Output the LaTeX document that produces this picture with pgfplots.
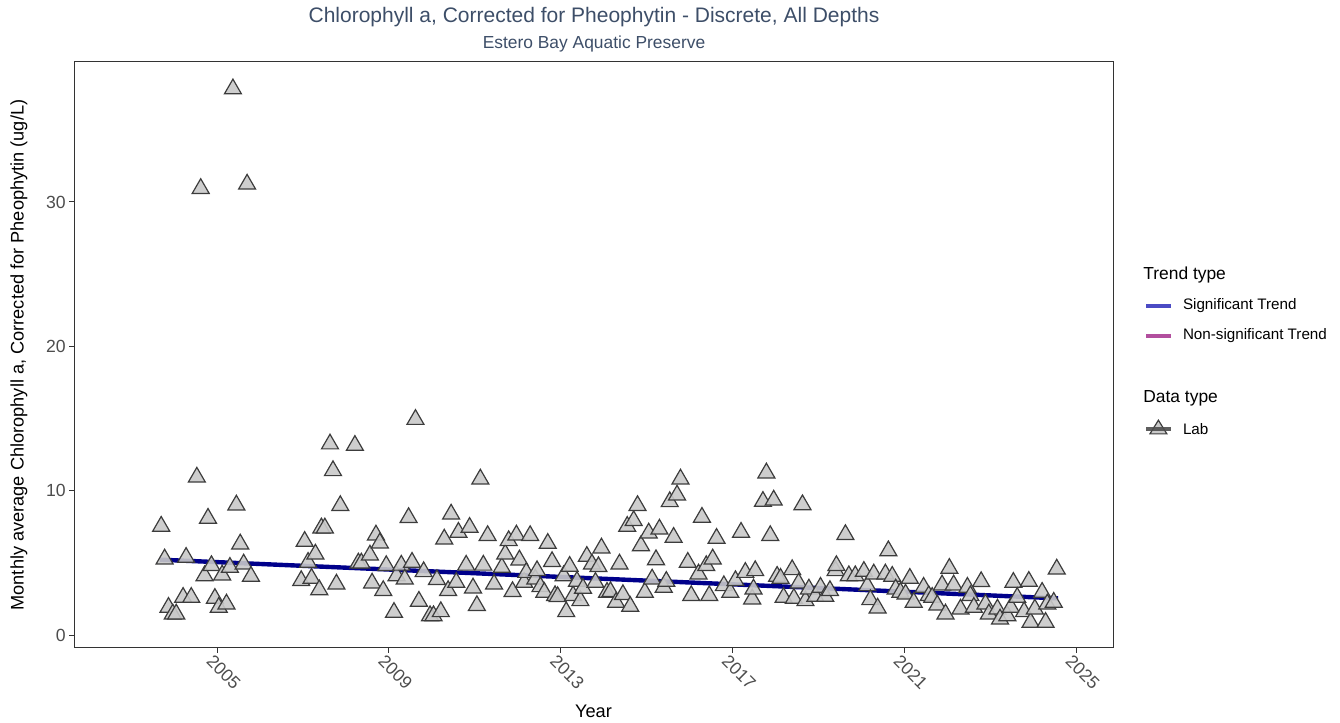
\documentclass[border=0pt]{standalone}
\usepackage{pgfplots}
\pgfplotsset{compat=1.18}
\usepackage{fontspec}
\setmainfont{Liberation Sans}
\definecolor{titlecol}{HTML}{3D4E68}
\definecolor{tickcol}{HTML}{4D4D4D}
\definecolor{framecol}{HTML}{333333}
\definecolor{trendcol}{HTML}{00008B}
\definecolor{sigcol}{HTML}{4B4BC4}
\definecolor{nonsigcol}{HTML}{B24F9E}
\definecolor{ptfill}{HTML}{C9C9C9}
\definecolor{ptedge}{HTML}{3C3C3C}

\pgfplotstableread{
year value
2003.70 7.7
2003.78 5.43
2003.87 2.08
2003.97 1.62
2004.05 1.62
2004.21 2.77
2004.28 5.54
2004.40 2.77
2004.53 11.1
2004.62 31.1
2004.71 4.27
2004.79 8.25
2004.87 4.97
2004.95 2.7
2005.04 2.08
2005.12 4.32
2005.22 2.31
2005.30 4.85
2005.37 38.0
2005.45 9.17
2005.54 6.47
2005.62 5.08
2005.70 31.4
2005.79 4.23
2006.96 3.93
2007.04 6.65
2007.12 5.2
2007.20 4.09
2007.29 5.77
2007.38 3.3
2007.43 7.58
2007.51 7.58
2007.63 13.4
2007.70 11.55
2007.78 3.69
2007.87 9.13
2008.21 13.3
2008.29 5.15
2008.36 5.15
2008.56 5.7
2008.61 3.76
2008.70 7.09
2008.79 6.54
2008.87 3.24
2008.94 4.97
2009.12 1.73
2009.18 4.27
2009.29 5.0
2009.37 4.04
2009.46 8.3
2009.54 5.2
2009.62 15.1
2009.70 2.5
2009.81 4.55
2009.96 1.5
2010.04 1.5
2010.12 4.0
2010.21 1.78
2010.29 6.81
2010.38 3.24
2010.45 8.54
2010.57 3.81
2010.62 7.28
2010.80 5.0
2010.88 7.62
2010.96 3.42
2011.05 2.2
2011.13 10.97
2011.20 5.0
2011.30 7.05
2011.45 3.69
2011.63 4.85
2011.71 5.77
2011.79 6.7
2011.88 3.17
2011.97 7.09
2012.04 5.36
2012.15 3.81
2012.20 4.5
2012.29 7.05
2012.41 4.04
2012.45 4.62
2012.53 3.51
2012.62 3.12
2012.70 6.51
2012.80 5.25
2012.87 2.89
2012.93 2.82
2013.07 4.27
2013.13 1.78
2013.21 4.92
2013.29 2.89
2013.38 3.88
2013.46 2.54
2013.52 3.4
2013.61 5.61
2013.73 5.08
2013.81 3.81
2013.88 4.9
2013.95 6.19
2014.08 3.12
2014.16 3.17
2014.29 2.43
2014.37 5.08
2014.45 2.96
2014.55 7.69
2014.62 2.15
2014.70 8.09
2014.79 9.13
2014.87 6.35
2014.96 3.12
2015.05 7.23
2015.13 4.04
2015.22 5.38
2015.30 7.5
2015.40 3.47
2015.46 3.88
2015.54 9.4
2015.63 6.93
2015.71 9.86
2015.79 10.97
2015.96 5.2
2016.04 2.89
2016.21 4.39
2016.29 8.32
2016.39 4.97
2016.46 2.89
2016.54 5.43
2016.63 6.86
2016.80 3.58
2016.95 3.12
2017.07 3.93
2017.20 7.28
2017.30 4.5
2017.46 2.66
2017.49 3.35
2017.53 4.62
2017.71 9.42
2017.79 11.39
2017.88 7.05
2017.96 9.51
2018.04 4.23
2018.12 4.09
2018.19 2.77
2018.39 4.69
2018.43 2.7
2018.54 3.76
2018.63 9.19
2018.70 2.54
2018.78 3.35
2018.93 2.84
2019.05 3.47
2019.16 2.84
2019.27 3.24
2019.40 4.62
2019.42 4.97
2019.63 7.12
2019.71 4.27
2019.86 4.27
2020.06 4.57
2020.14 3.58
2020.21 2.61
2020.29 4.39
2020.38 2.03
2020.56 4.39
2020.63 6.0
2020.72 4.23
2020.80 3.35
2020.91 3.12
2021.03 3.0
2021.13 4.09
2021.22 2.43
2021.45 3.47
2021.57 2.89
2021.65 2.77
2021.77 2.24
2021.88 3.63
2021.96 1.62
2022.05 4.78
2022.15 3.63
2022.31 1.96
2022.47 3.47
2022.54 2.89
2022.62 2.08
2022.79 3.86
2022.89 2.31
2022.97 1.62
2023.17 1.96
2023.23 1.27
2023.40 1.5
2023.48 2.08
2023.54 3.81
2023.63 2.77
2023.79 1.78
2023.90 3.88
2023.94 1.04
2024.04 1.96
2024.21 3.12
2024.29 1.04
2024.33 2.31
2024.48 2.43
2024.55 4.73
}\labdata

\begin{document}
\begin{tikzpicture}[x=1pt,y=1pt]
\useasboundingbox (-37,-37.5) rectangle (633,324);
\begin{axis}[
  at={(0,0)}, anchor=south west,
  scale only axis, width=519.5pt, height=293pt,
  xmin=2001.67, xmax=2025.86, ymin=-0.9, ymax=39.7,
  xtick={2005,2009,2013,2017,2021,2025},
  ytick={0,10,20,30},
  tick pos=left, tick align=outside,
  major tick length=2.5pt,
  every tick/.style={framecol, line width=0.5pt},
  axis line style={framecol, line width=0.5pt},
  /pgf/number format/assume math mode=true,
  /pgf/number format/1000 sep={},
  ticklabel style={font=\fontsize{8.8}{10}\selectfont, text=tickcol},
  xticklabel style={rotate=-45, anchor=north west, inner sep=1pt, xshift=-2pt},
  yticklabel style={inner sep=1.5pt},
  xlabel={Year},
  ylabel={Monthly average Chlorophyll a, Corrected for Pheophytin (ug/L)},
  label style={font=\fontsize{9.1}{11}\selectfont},
  xlabel style={at={(axis description cs:0.5,-0.1075)}, anchor=center},
  ylabel style={at={(axis description cs:-0.0529,0.5)}, anchor=center, rotate=0},
  clip=false,
]
\addplot[only marks, mark=triangle*, mark size=4.9pt,
  mark options={fill=ptfill, draw=ptedge, line width=0.6pt, fill opacity=0.9, yshift=-1.2pt}]
  table[x=year, y=value] {\labdata};
\addplot[trendcol, line width=2.2pt] coordinates {(2003.67,5.22) (2024.58,2.54)};
\end{axis}
% titles
\node[font=\fontsize{10.5}{12}\selectfont, text=titlecol] at (260,315.5) {Chlorophyll a, Corrected for Pheophytin - Discrete, All Depths};
\node[font=\fontsize{8.7}{10}\selectfont, text=titlecol] at (260,302) {Estero Bay Aquatic Preserve};
% legend
\node[font=\fontsize{8.7}{10}\selectfont, anchor=west, inner sep=0pt] at (534.5,186.5) {Trend type};
\draw[sigcol, line width=2pt] (536,171.2) -- (548.3,171.2);
\node[font=\fontsize{7.6}{9}\selectfont, anchor=west, inner sep=0pt] at (554.3,171.2) {Significant Trend};
\draw[nonsigcol, line width=2pt] (536,156.2) -- (548.3,156.2);
\node[font=\fontsize{7.6}{9}\selectfont, anchor=west, inner sep=0pt] at (554.3,156.2) {Non-significant Trend};
\node[font=\fontsize{8.7}{10}\selectfont, anchor=west, inner sep=0pt] at (534.5,124.8) {Data type};
\draw[ptedge, line width=0.6pt, fill=ptfill] (542.2,113.9) -- (537.96,107.05) -- (546.44,107.05) -- cycle;
\draw[tickcol, line width=1.6pt, opacity=0.9] (536,109.5) -- (548.3,109.5);
\node[font=\fontsize{7.6}{9}\selectfont, anchor=west, inner sep=0pt] at (554.3,109.5) {Lab};
\end{tikzpicture}
\end{document}
